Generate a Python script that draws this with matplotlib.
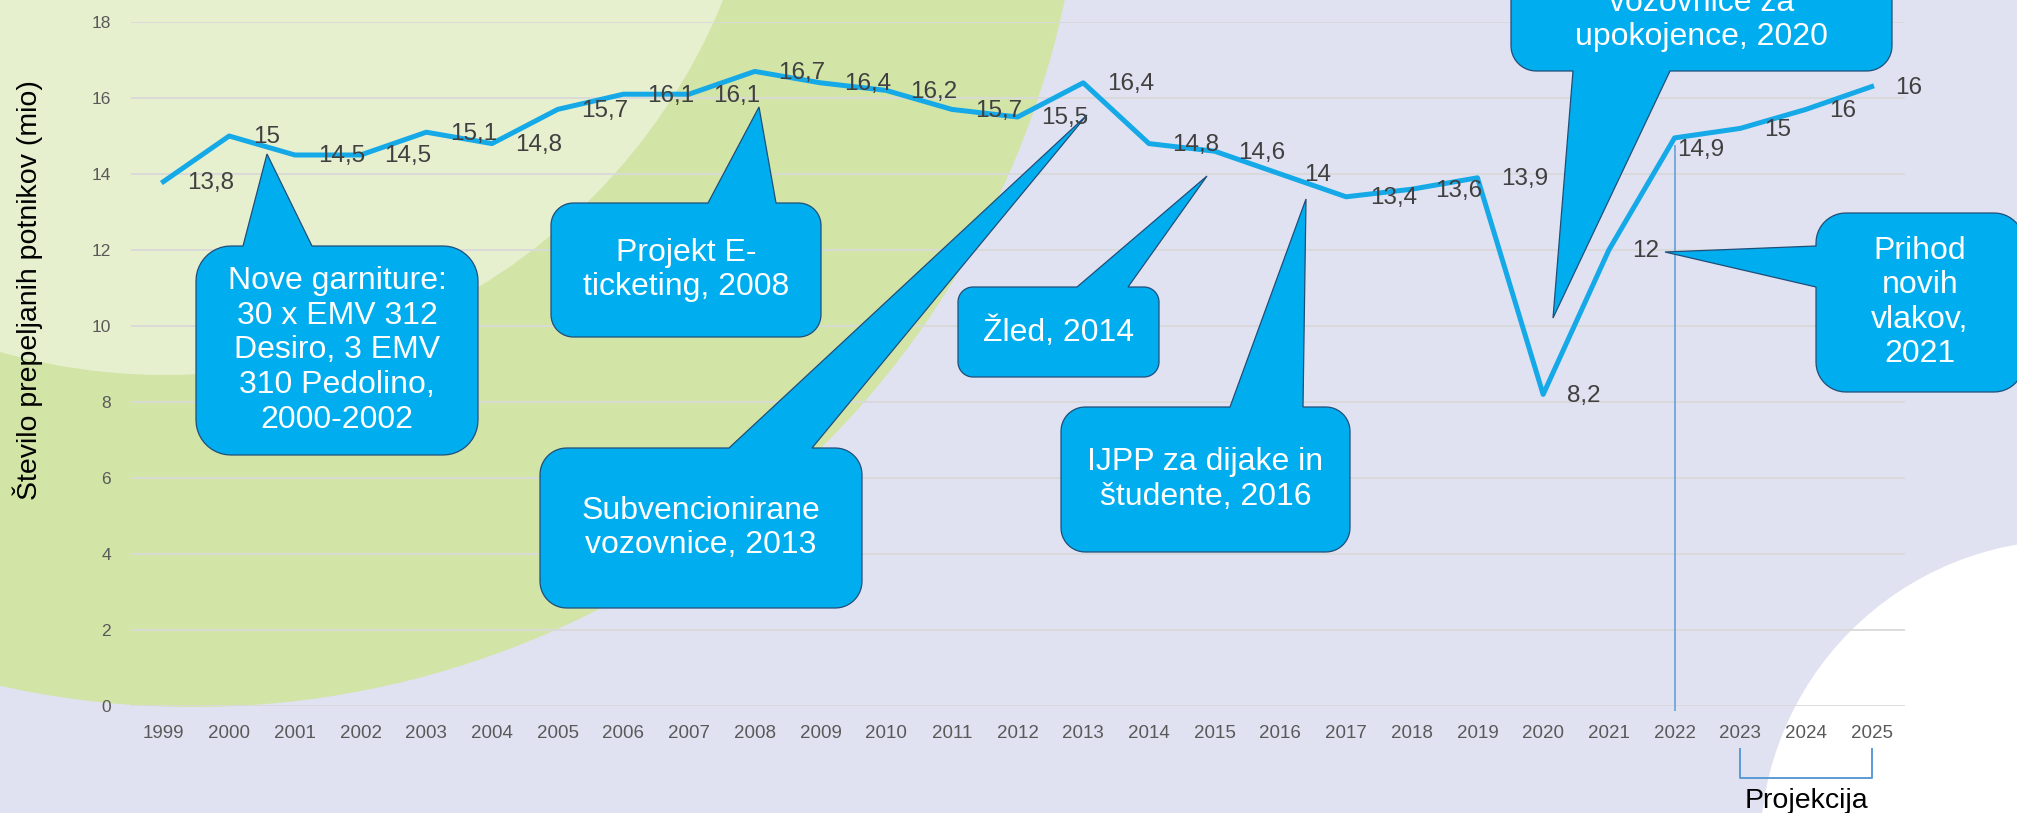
import numpy as np
import matplotlib
matplotlib.use("Agg")
import matplotlib.pyplot as plt
from matplotlib.patches import Circle, Polygon
from matplotlib.transforms import Affine2D, blended_transform_factory

plt.rcParams['font.family'] = ['Liberation Sans', 'DejaVu Sans']

# data (mio passengers)
years = [1999, 2000, 2001, 2002, 2003, 2004, 2005, 2006, 2007, 2008, 2009, 2010, 2011, 2012,
         2013, 2014, 2015, 2016, 2017, 2018, 2019, 2020, 2021, 2022, 2023, 2024, 2025]
values = [13.8, 15.0, 14.5, 14.5, 15.1, 14.8, 15.7, 16.1, 16.1, 16.7, 16.4, 16.2, 15.7, 15.5,
          16.4, 14.8, 14.6, 14.0, 13.4, 13.6, 13.9, 8.2, 12.0, 14.95, 15.2, 15.7, 16.3]
labels = ["13,8", "15", "14,5", "14,5", "15,1", "14,8", "15,7", "16,1", "16,1", "16,7", "16,4",
          "16,2", "15,7", "15,5", "16,4", "14,8", "14,6", "14", "13,4", "13,6", "13,9", "8,2",
          "12", "14,9", "15", "16", "16"]
yticks = [0, 2, 4, 6, 8, 10, 12, 14, 16, 18]
split_year = 2022
proj_years = (2023, 2025)

# callouts: text, box (x0, y0, x1, y1 in px, y down), side of pointer, base, tip
callouts = [
    ("Nove garniture:\n30 x EMV 312\nDesiro, 3 EMV\n310 Pedolino,\n2000-2002",
     (196, 246, 478, 455), 'top', (243, 312), (267, 154), None),
    ("Projekt E-\nticketing, 2008", (551, 203, 821, 337), 'top', (708, 776), (759, 107), None),
    ("Subvencionirane\nvozovnice, 2013", (540, 448, 862, 608), 'top', (729, 812), (1087, 115), None),
    ("Žled, 2014", (958, 287, 1159, 377), 'top', (1077, 1128), (1207, 176), None),
    ("IJPP za dijake in\nštudente, 2016", (1061, 407, 1350, 552), 'top', (1230, 1303), (1306, 199), None),
    ("vozovnice za\nupokojence, 2020", (1511, -80, 1892, 71), 'bottom', (1573, 1670), (1553, 318), 20),
    ("Prihod\nnovih\nvlakov,\n2021", (1816, 213, 2024, 392), 'left', (246, 287), (1665, 252), None),
]

W, H = 2017, 813
BG = '#E0E2F1'
GREEN = '#D3E4A7'
LIGHT = '#E6F0CF'
LINE = '#15A9E8'
BOX = '#00AEEF'
EDGE = '#1F4E79'

fig = plt.figure(figsize=(W / 100, H / 100), dpi=100)
fig.patch.set_facecolor(BG)
pix = Affine2D().scale(1 / 100, -1 / 100).translate(0, H / 100) + fig.dpi_scale_trans

# background decoration
fig.add_artist(Circle((193, -184), 891, transform=pix, facecolor=GREEN, edgecolor='none', zorder=-3))
fig.add_artist(Circle((165, -228), 603, transform=pix, facecolor=LIGHT, edgecolor='none', zorder=-2))
fig.add_artist(Circle((2070, 850), 310, transform=pix, facecolor='white', edgecolor='none', zorder=-2))

ax = fig.add_axes([130.6 / W, 1 - 706 / H, (1904.5 - 130.6) / W, (706 - 22) / H])
ax.set_facecolor('none')

x = np.arange(len(years))
ax.plot(x, values, color=LINE, lw=3.6, zorder=3, solid_joinstyle='round')

i_split = years.index(split_year)
ax.vlines(i_split, -0.12, values[i_split] - 0.2, color='#5B9BD5', lw=1.1, zorder=2, clip_on=False)

for i, (v, lab) in enumerate(zip(values, labels)):
    off = (17, -1)
    if years[i] == split_year:
        off = (1.5, -9)
    ax.annotate(lab, (i, v), xytext=off, textcoords='offset points', ha='left', va='center',
                fontsize=17.5, color='#404040', zorder=6)

ax.set_xlim(-0.5, len(years) - 0.5)
ax.set_ylim(0, 18)
ax.set_yticks(yticks)
ax.set_xticks(x)
ax.set_xticklabels([str(y) for y in years])
ax.grid(axis='y', color='#D9D9D9', lw=1.3)
ax.set_axisbelow(True)
for s in ax.spines.values():
    s.set_visible(False)
ax.tick_params(axis='x', length=0, pad=14, labelsize=13.5, labelcolor='#595959')
ax.tick_params(axis='y', length=0, pad=14, labelsize=12.5, labelcolor='#595959')

fig.text(28 / W, 1 - 290 / H, "Število prepeljanih potnikov (mio)", rotation=90,
         ha='center', va='center', fontsize=20.5, color='black')


def callout_pts(box, side, base, tip):
    x0, y0, x1, y1 = box
    r = 0.1667 * min(x1 - x0, y1 - y0)
    pts = []

    def arc(cx, cy, a0, a1):
        for t in np.radians(np.linspace(a0, a1, 12)):
            pts.append((cx + r * np.cos(t), cy + r * np.sin(t)))

    b1, b2 = base
    if side == 'top':
        pts += [(b1, y0), tip, (b2, y0)]
    arc(x1 - r, y0 + r, -90, 0)
    arc(x1 - r, y1 - r, 0, 90)
    if side == 'bottom':
        pts += [(b2, y1), tip, (b1, y1)]
    arc(x0 + r, y1 - r, 90, 180)
    if side == 'left':
        pts += [(x0, b2), tip, (x0, b1)]
    arc(x0 + r, y0 + r, 180, 270)
    return pts


for text, box, side, base, tip, ty in callouts:
    poly = Polygon(callout_pts(box, side, base, tip), closed=True, transform=pix,
                   facecolor=BOX, edgecolor=EDGE, lw=0.9, zorder=4, clip_on=False)
    ax.add_patch(poly)
    cx = (box[0] + box[2]) / 2
    cy = ty if ty is not None else (box[1] + box[3]) / 2
    ax.text(cx, cy, text, transform=pix, ha='center', va='center', color='white',
            fontsize=23, linespacing=1.2, zorder=5, clip_on=False)

# projection bracket
bt = blended_transform_factory(ax.transData, ax.transAxes)
p0, p1 = years.index(proj_years[0]), years.index(proj_years[1])
ax.plot([p0, p0, p1, p1], [-0.063, -0.105, -0.105, -0.063], transform=bt, color='#5B9BD5',
        lw=1.4, clip_on=False)
ax.text((p0 + p1) / 2, -0.149, "Projekcija", transform=bt, ha='center', va='baseline',
        fontsize=20.5, color='black', clip_on=False)

fig.savefig("out.png", dpi=100, facecolor=fig.get_facecolor())
